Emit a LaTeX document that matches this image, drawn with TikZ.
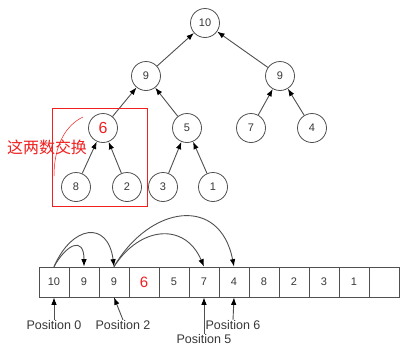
\documentclass[tikz,border=0pt]{standalone}
\usepackage{fontspec}
\setmainfont{Liberation Sans}
\newfontfamily\cjk{Noto Sans CJK SC}
\usetikzlibrary{arrows.meta}
\definecolor{ln}{HTML}{505050}
\definecolor{tx}{HTML}{383838}
\definecolor{rd}{HTML}{F02020}
\begin{document}
\begin{tikzpicture}[x=1pt,y=-1pt,
  nd/.style={circle, draw=ln, fill=white, line width=0.8pt, minimum size=29pt, inner sep=0pt, text=tx, font=\fontsize{11}{11}\selectfont},
  ed/.style={draw=ln, line width=0.9pt, -{Latex[length=7.5pt,width=5.5pt,color=black]}},
  cell/.style={draw=ln, line width=0.7pt, minimum width=30pt, minimum height=30pt, inner sep=0pt, text=tx, font=\fontsize{11}{11}\selectfont},
  lbl/.style={font=\fontsize{12.5}{12.5}\selectfont, text=tx, inner sep=0pt, anchor=north}
]
\useasboundingbox[fill=white] (0,0) rectangle (415,357);
% tree
\node[nd] (n10) at (205,23) {10};
\node[nd] (n9a) at (146,76) {9};
\node[nd] (n9b) at (280,76) {9};
\node[nd, text=rd, font=\fontsize{16}{16}\selectfont] (n6) at (103,128) {6};
\node[nd] (n5) at (187,128) {5};
\node[nd] (n7) at (251,128) {7};
\node[nd] (n4) at (312,128) {4};
\node[nd] (n8) at (76,187) {8};
\node[nd] (n2) at (127,187) {2};
\node[nd] (n3) at (163,187) {3};
\node[nd] (n1) at (213,187) {1};
\draw[ed] (n9a) -- (n10);
\draw[ed] (n9b) -- (n10);
\draw[ed] (n6) -- (n9a);
\draw[ed] (n5) -- (n9a);
\draw[ed] (n7) -- (n9b);
\draw[ed] (n4) -- (n9b);
\draw[ed] (n8) -- (n6);
\draw[ed] (n2) -- (n6);
\draw[ed] (n3) -- (n5);
\draw[ed] (n1) -- (n5);
% red annotation
\node[draw=rd, line width=0.8pt, minimum width=95pt, minimum height=98pt, inner sep=0pt] (box) at (99.5,157) {};
\draw[rd, line width=0.5pt] (83,117) .. controls (66,125) and (54,145) .. (54,176);
\node[text=rd, font=\cjk\fontsize{16}{16}\selectfont, inner sep=0pt] (lab) at (47,147) {这两数交换};
% array
\foreach \v [count=\i from 0] in {10,9,9,{\textcolor{rd}{\fontsize{15}{15}\selectfont 6}},5,7,4,8,2,3,1,{}} {
  \node[cell] (c\i) at (54+30*\i,282) {\v};
}
\draw[ed] (c0.north) .. controls (66,245) and (84,235) .. (c1.north);
\draw[ed] (c0.north) .. controls (72,225) and (108,220) .. (c2.north);
\draw[ed] (c2.north) .. controls (140,226) and (185,222) .. (c5.north);
\draw[ed] (c2.north) .. controls (150,205) and (220,195) .. (c6.north);
% position labels
\node[lbl] (p0) at (54,320) {Position 0};
\node[lbl] (p2) at (123,320) {Position 2};
\node[lbl] (p5) at (204,334) {Position 5};
\node[lbl] (p6) at (233,320) {Position 6};
\draw[ed] (p0.north) -- (c0.south);
\draw[ed] (p2.north) -- (c2.south);
\draw[ed] (p5.north) -- (c5.south);
\draw[ed] (p6.north) -- (c6.south);
\end{tikzpicture}
\end{document}
